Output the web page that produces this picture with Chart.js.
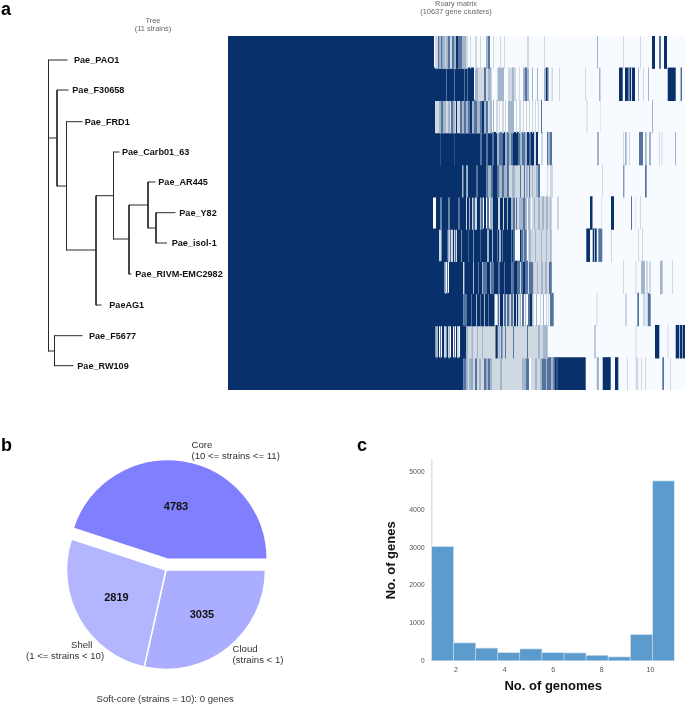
<!DOCTYPE html>
<html>
<head>
<meta charset="utf-8">
<script src="https://cdn.jsdelivr.net/npm/chart.js@4"></script>
<style>
html,body{margin:0;padding:0;background:#fff;width:685px;height:705px;overflow:hidden;font-family:"Liberation Sans",Arial,sans-serif}
canvas{position:absolute;display:block;filter:blur(0.35px)}
.t{position:absolute;white-space:nowrap;line-height:1;color:#222;filter:blur(0.25px)}
.panel{font-weight:bold;font-size:18px;color:#000}
.head{font-size:7.4px;color:#666;text-align:center;transform:translateX(-50%)}
.pie{font-size:9.6px;color:#333}
</style>
</head>
<body>
<div class="t panel" style="left:1px;top:0px">a</div>
<div class="t panel" style="left:1px;top:436px">b</div>
<div class="t panel" style="left:357px;top:436px">c</div>
<div class="t head" style="left:153px;top:17px">Tree</div>
<div class="t head" style="left:153px;top:25px">(11 strains)</div>
<div class="t head" style="left:456px;top:0px">Roary matrix</div>
<div class="t head" style="left:456px;top:8px">(10637 gene clusters)</div>
<div class="t pie" style="left:191.5px;top:440px">Core</div>
<div class="t pie" style="left:191.5px;top:451px">(10 &lt;= strains &lt;= 11)</div>
<div class="t pie" style="left:71px;top:640px">Shell</div>
<div class="t pie" style="left:26px;top:651px">(1 &lt;= strains &lt; 10)</div>
<div class="t pie" style="left:232.5px;top:644px">Cloud</div>
<div class="t pie" style="left:232.5px;top:655px">(strains &lt; 1)</div>
<div class="t pie" style="left:96.5px;top:694px">Soft-core (strains = 10): 0 genes</div>

<canvas id="tree" width="228" height="400" style="left:0;top:0"></canvas>
<canvas id="matrix" width="457" height="354" style="left:228px;top:36px"></canvas>
<canvas id="pie" width="250" height="250" style="left:41px;top:445px"></canvas>
<canvas id="hist" width="325" height="275" style="left:360px;top:430px"></canvas>

<script>
// ---- Panel a: tree ----
const treeLeafNames = ["Pae_PAO1","Pae_F30658","Pae_FRD1","Pae_Carb01_63","Pae_AR445","Pae_Y82","Pae_isol-1","Pae_RIVM-EMC2982","PaeAG1","Pae_F5677","Pae_RW109"];
const treeLeafTipX = [67,68,82,119,155,175,166.5,131,101,82,73];
const treeLeafY = [60,90,121.7,152,182,212.7,243,274,305,335.7,365.7];
const treeEdges = [
  [48.5,60,48.5,351],[48.5,60,67,60],
  [48.5,138,57,138],[57,90,57,186],[57,90,68,90],
  [57,186,66.5,186],[66.5,121.7,66.5,250],[66.5,121.7,82,121.7],
  [66.5,250,96,250],[96,195.7,96,305],[96,305,101,305],
  [96,195.7,113.5,195.7],[113.5,152,113.5,239],[113.5,152,119,152],
  [113.5,239,129,239],[129,205,129,274],[129,274,131,274],
  [129,205,148,205],[148,182,148,228],[148,182,155,182],
  [148,228,156,228],[156,212.7,156,243],[156,212.7,175,212.7],[156,243,166.5,243],
  [48.5,351,54.5,351],[54.5,335.7,54.5,365.7],[54.5,335.7,82,335.7],[54.5,365.7,73,365.7]
];

// ---- Panel a: matrix, runs of [startBin, endBin, shade] per strain ----
const matrixBins = 457;
const rowPAO1 = [[0,206,4],[207,240,1],[210,211.5,3],[211.5,213,2],[213,214.5,3],[215,217,2],[218,220,2],[220,222,3],[224,226,3],[226,228,2],[228,230,4],[230,234,3],[234,236,2],[236,238,2],[242,243,1],[247,249,1],[252,253,1],[258,260,2],[260,262,3],[265,266,1],[272,273,1],[276,277,1],[299,301,1],[316,317,1],[369,370,2],[395,396,1],[412,413,1],[424,427,4],[431,433,3],[436,439,4]];
const rowF30658 = [[0,246,4],[218.5,219,2],[226,226.5,2],[236,236.5,2],[239,240,3],[247,264,1],[247,250,2],[256,258,3],[260,263,2],[269.5,276,2],[280,288,1],[284,286,2],[291,292,1],[295,301,2],[297,299,3],[304,305,2],[309,310,2],[316,321,2],[318,319.5,4],[323.5,325,1],[331,332,1],[357,358,1],[371,372.5,2],[391,394.7,4],[397,407,4],[400.5,401.5,1],[403,404,1],[410,411,2],[415,416,1],[420,421,2],[439.7,447.7,4],[452.7,453.7,4]];
const rowFRD1 = [[0,207,4],[207,264,1],[211,213,2],[213,215,3],[215,218,2],[220,222,2],[223,225,3],[225,227,2],[228,229,4],[232,234,3],[234,236,2],[236,238,3],[238,240,2],[240,242,3],[242,244,4],[244,246,2],[246,249,3],[249,252,2],[252,254,3],[254,256,4],[256,258,2],[258,260,3],[262,264,2],[265,266,2],[268,270,1],[271,272,1],[274,276,1],[277,278,1],[280,286,2],[288,289,1],[291,293,1],[295,296,1],[298,299,1],[301,302,1],[304,305,1],[307,308,1],[310,311,1],[313,314,3],[358.5,359.5,1],[372.5,373,1],[424,425,2]];
const rowCarb = [[0,252,4],[212,212.5,3],[226,226.5,3],[252,254,3],[254,258,4],[258,260,3],[260,264,4],[264,266,3],[266,269,4],[269,271,2],[271,275,3],[275,277,4],[277,279,2],[279,281,3],[281,283,2],[283,285,3],[285,290,4],[290,292,3],[292,294,2],[294,297,3],[297,299,2],[299,301,4],[301,303,3],[303,306,4],[306,308,1],[308,310,4],[313,315,1],[319,320,3],[320,322,2],[322,324,3],[369,371,2],[395,396,1],[397,398.7,2],[401,402,1],[411,415,3],[417,418.7,2],[421,423,2],[431,432,1],[433.5,434.5,1],[447,448,2]];
const rowAR445 = [[0,234,4],[234,235,2],[235,236,3],[236,238.5,4],[238.5,240,2],[240,258.5,4],[248.5,249.5,2],[258.5,260,3],[260,263,2],[263,265,3],[265,269,4],[269,312,1],[269,271,3],[271,274,2],[274,276,3],[276,279,2],[279,281,3],[284,287,2],[292,293,3],[296,297,3],[298,300,2],[301,302,3],[304,305,2],[308,310,2],[310,312,3],[319,320,1],[322,325,1],[374,375,1],[395.3,396.3,3],[417,418.7,3]];
const rowY82 = [[0,205,4],[208,238,4],[212.5,213.5,1],[220.5,221.5,1],[230.5,231.5,2],[238,239,1],[239,241,4],[241,242,2],[242,244,4],[244,245,1],[245,247,3],[247,249,1],[249,252,4],[252,253,2],[253,255,3],[256,258,4],[259,261,3],[262,265,2],[265,270,4],[270,272,1],[272,275,4],[275,276,1],[276,279,4],[279,280,2],[280,283,4],[283,285,2],[285,287,3],[287,288,1],[288,289,3],[289,291,1],[291,293,2],[293,299,2],[295,297,3],[300,302,2],[302,303,1],[304,324,1],[306,307,2],[310,312,2],[314,316,2],[318,320,2],[322,323,2],[329.5,330.5,2],[362,364.5,4],[373.5,374,1],[383,386,4],[403,404,3],[407.5,408,1],[412,413,1]];
const rowIsol1 = [[0,211,4],[211.5,212.5,2],[213.5,219.7,4],[220,229,1],[220,221,2],[222,223,3],[225,226,4],[227,228,3],[229,259,4],[233,233.7,2],[240,240.7,3],[245,245.7,2],[252,252.7,3],[259,261,2],[261,264,4],[264,265,2],[265,287,4],[269,270,3],[271,273,2],[274,275,3],[283,284,3],[285,287,3],[292,293,4],[293,298.7,3],[295,296,2],[300,324,1],[301,303,2],[307,308,2],[313,314,2],[318,319,2],[322,323.5,2],[358.3,362,4],[364.7,368.7,4],[366,367,2],[370.3,374.3,3],[383,384,1],[410,411,1],[414,415,1]];
const rowRIVM = [[0,216.5,4],[217,218,2],[219,220,3],[221,235,4],[235,236,1],[236,237,3],[237,245,4],[245,246,2],[246,250,4],[250,251,3],[251,254,4],[254,255,2],[255,259,3],[259,262,4],[262,263,2],[263,266,3],[266,270,4],[270,272,3],[272,276,4],[276,277,3],[277,283.5,4],[283.5,286,3],[286,289,4],[289,292,3],[292,293,1],[293,295,3],[295,297,4],[297,300,3],[300,301,1],[301,305.5,3],[305.5,324,1],[309,310,2],[313,315,2],[317,319,2],[321,323.7,3],[395,396,1],[407.5,408.5,1],[413,417,2],[418.5,419.5,2],[421,423,1],[432,434.7,2],[444,445,1]];
const rowAG1 = [[0,235.5,4],[235.5,238.5,3],[238.5,243,4],[243,244,3],[244,248,4],[248,249,2],[249,252,4],[252,253,3],[253,256,4],[256,257,2],[257,260,4],[260,261,3],[261,266.5,4],[269.7,292,1],[269.7,271,3],[272,275,4],[276,278,3],[279,281,3],[281,282,2],[283,285,3],[286,288,4],[289,290,4],[292,293,2],[294,296,3],[297,298,2],[300.3,304.3,4],[301,302,3],[305,306,1],[308,309,2],[312,313,1],[315,316,2],[318,319,1],[320,321,1],[322,325.7,3],[368.5,369.5,1],[397.5,398.5,2],[409.3,411,3],[415.5,416.5,2],[417.5,418.5,1],[419.7,422.7,3]];
const rowF5677 = [[0,207.5,4],[208.5,209.5,3],[210,211,4],[212,213,3],[214,216,4],[216.5,217.5,2],[218.5,220,4],[220.5,222,2],[223,225,4],[226,227,3],[228,229,4],[229.5,230.5,2],[232,238.5,4],[238.5,320,1],[239,240,2],[243.5,245,2],[249,250,2],[254,255,2],[267.5,269.7,4],[270.5,272,2],[273,274.5,3],[277,278,3],[285,286,3],[299,300,3],[310,312,2],[315,319.5,2],[366.3,367.7,2],[407.5,408.5,1],[427,431.3,4],[439.5,440.5,1],[447.7,451,4],[451,452,2],[452,454,4],[454.5,457,4]];
const rowRW109 = [[0,235.5,4],[235.5,238,3],[238,240.3,2],[240.3,301,1],[241,243,2],[243.5,244.5,3],[247,249,3],[251,253,2],[256,258.5,3],[259,260,2],[260,262,3],[262,264,2],[272,274,2],[294,298,2],[298,301,3],[303,325,1],[307,309,2],[312,314,2],[314,318,3],[318,319,2],[319,323,3],[323,325.5,2],[325.5,357.7,4],[326,327,3],[328.5,329.5,3],[368.7,371,2],[374.7,382.7,4],[387,390.3,4],[399,400,1],[407.7,410.3,1],[413,414,1],[417,418,1],[434.3,436,3],[442,443,1]];
const matrixRows = [rowPAO1,rowF30658,rowFRD1,rowCarb,rowAR445,rowY82,rowIsol1,rowRIVM,rowAG1,rowF5677,rowRW109];

// ---- Panel b: pie ----
const pieLabels = ["Cloud","Shell","Core"];
const pieValues = [3035,2819,4783];

// ---- Panel c: histogram ----
const genomeBinCenters = [1.4545,2.3636,3.2727,4.1818,5.0909,6.0,6.9091,7.8182,8.7273,9.6364,10.5455];
const geneCounts = [3035,480,340,225,320,225,215,150,110,700,4783];
const genomeTicks = [2,4,6,8,10];
const geneTicks = [0,1000,2000,3000,4000,5000];

// ---- styles ----
const FONT = '"Liberation Sans", Arial, sans-serif';
Chart.defaults.font.family = FONT;
Chart.defaults.animation = false;
Chart.defaults.responsive = false;
Chart.defaults.plugins.legend.display = false;
Chart.defaults.plugins.tooltip.enabled = false;
const shadeColors = ["#f7fbff","#d0d8e2","#a3b5cb","#54749f","#08306b"];
const pieColors = ["#abaeff","#b3b5ff","#8080ff"];
const pieExplode = 11;
const pieTextRadius = [57.5,57,52.5];
const treeLabelGap = [7,4.3,2.7,3,3.3,4.3,5.2,4.3,8.3,7,4.3];

// Tree
const treePoints = [];
treeEdges.forEach(e => {
  treePoints.push({x:e[0],y:e[1]},{x:e[2],y:e[3]},{x:NaN,y:NaN});
});
new Chart(document.getElementById("tree"), {
  type:"scatter",
  data:{datasets:[{data:treePoints,showLine:true,spanGaps:false,pointRadius:0,borderWidth:1,borderColor:"#2a2a2a",borderCapStyle:"square",tension:0}]},
  options:{
    layout:{padding:0},
    scales:{
      x:{type:"linear",display:false,min:0,max:228},
      y:{type:"linear",display:false,min:0,max:400,reverse:true}
    }
  },
  plugins:[{
    id:"leafLabels",
    afterDatasetsDraw(chart){
      const c=chart.ctx,xs=chart.scales.x,ys=chart.scales.y;
      c.save();
      c.font='bold 9.1px '+FONT;c.fillStyle="#111";c.textBaseline="middle";c.textAlign="left";
      treeLeafNames.forEach((n,i)=>c.fillText(n,xs.getPixelForValue(treeLeafTipX[i])+treeLabelGap[i],ys.getPixelForValue(treeLeafY[i])+0.5));
      c.restore();
    }
  }]
});

// Matrix
const matrixDatasets = matrixRows.map((runs,r)=>({
  data:runs.map(s=>({x:[s[0],s[1]],y:treeLeafNames[r]})),
  backgroundColor:runs.map(s=>shadeColors[s[2]]),
  borderWidth:0,inflateAmount:0
}));
matrixDatasets.push({
  data:treeLeafNames.map(n=>({x:[0,matrixBins],y:n})),
  backgroundColor:shadeColors[0],borderWidth:0,inflateAmount:0
});
new Chart(document.getElementById("matrix"), {
  type:"bar",
  data:{labels:treeLeafNames,datasets:matrixDatasets},
  options:{
    indexAxis:"y",
    layout:{padding:0},
    datasets:{bar:{grouped:false,barPercentage:1,categoryPercentage:1.04}},
    scales:{
      x:{type:"linear",display:false,min:0,max:matrixBins},
      y:{type:"category",display:false}
    }
  }
});

// Pie
new Chart(document.getElementById("pie"), {
  type:"pie",
  data:{labels:pieLabels,datasets:[{data:pieValues,backgroundColor:pieColors,borderColor:"#fff",borderWidth:1.5}]},
  options:{rotation:90,radius:99.5,layout:{padding:0}},
  plugins:[{
    id:"explodeAndValues",
    afterDatasetsUpdate(chart){
      const a=chart.getDatasetMeta(0).data[2];
      const mid=(a.startAngle+a.endAngle)/2;
      a.x+=Math.cos(mid)*pieExplode;a.y+=Math.sin(mid)*pieExplode;
    },
    afterDatasetsDraw(chart){
      const c=chart.ctx;
      c.save();
      c.font='bold 11px '+FONT;c.fillStyle="#111";c.textAlign="center";c.textBaseline="middle";
      chart.getDatasetMeta(0).data.forEach((a,i)=>{
        const mid=(a.startAngle+a.endAngle)/2;
        c.fillText(String(pieValues[i]),a.x+Math.cos(mid)*pieTextRadius[i],a.y+Math.sin(mid)*pieTextRadius[i]);
      });
      c.restore();
    }
  }]
});

// Histogram
new Chart(document.getElementById("hist"), {
  type:"bar",
  data:{datasets:[{
    data:genomeBinCenters.map((x,i)=>({x:x,y:geneCounts[i]})),
    backgroundColor:"#5b9bcd",
    borderColor:"rgba(196,221,239,0.9)",borderWidth:{top:1,left:0,right:1,bottom:0},
    borderSkipped:false,barPercentage:1,categoryPercentage:1
  }]},
  options:{
    layout:{padding:{left:0,top:30,right:10.3,bottom:0}},
    scales:{
      x:{
        type:"linear",min:1,max:11,offset:false,
        afterFit(s){s.height=44.3},
        afterBuildTicks(s){s.ticks=genomeTicks.map(v=>({value:v}))},
        grid:{display:false,drawTicks:false},border:{display:false},
        ticks:{padding:5,maxRotation:0,font:{size:7},color:"#555",callback:v=>String(v)},
        title:{display:true,text:"No. of genomes",color:"#111",font:{size:13,weight:"bold"},padding:{top:0,bottom:11}}
      },
      y:{
        type:"linear",min:0,max:5326,
        afterFit(s){s.width=71.7},
        afterBuildTicks(s){s.ticks=geneTicks.map(v=>({value:v}))},
        grid:{display:false,drawTicks:false},border:{display:true,color:"#dcdfe3",width:1.5},
        ticks:{padding:7,font:{size:7},color:"#555",callback:v=>String(v)},
        title:{display:true,text:"No. of genes",color:"#111",font:{size:13,weight:"bold"},padding:{top:24,bottom:0}}
      }
    }
  }
});
</script>
</body>
</html>
